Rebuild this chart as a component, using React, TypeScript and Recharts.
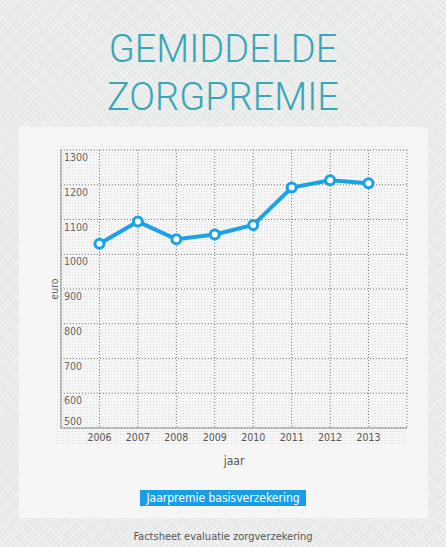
import { LineChart, Line, XAxis, YAxis, CartesianGrid, Legend } from "recharts";

// gemiddelde jaarpremie basisverzekering (euro)
const years = [2006, 2007, 2008, 2009, 2010, 2011, 2012, 2013];
const premiums = [1030, 1094, 1043, 1057, 1084, 1192, 1213, 1204];
const yTicks = [500, 600, 700, 800, 900, 1000, 1100, 1200, 1300];
const seriesName = "Jaarpremie basisverzekering";

const data = years.map((year, i) => ({ year, premie: premiums[i] }));
// one empty slot on each side of the years
const xTicks = [years[0] - 1, ...years, years[years.length - 1] + 1];

const NARROW = '"DejaVu Sans Condensed", "Liberation Sans Narrow", sans-serif';
const BLUE = "#1aa2e6";

const dots =
  "url(\"data:image/svg+xml;utf8,<svg xmlns='http://www.w3.org/2000/svg' width='3' height='3'><rect width='1' height='1' fill='%23dcdcdc'/></svg>\")";

const YTick = ({ x, y, payload }: any) => {
  const isBottom = payload.value === yTicks[0];
  return (
    <text x={x + 3} y={isBottom ? y - 3 : y + 11} fill="#666" fontSize={10.5} fontFamily={NARROW}>
      {payload.value}
    </text>
  );
};

const XTick = ({ x, y, payload }: any) => {
  if (!years.includes(payload.value)) return null;
  return (
    <text x={x} y={y + 13} fill="#555" fontSize={10.5} fontFamily={NARROW} textAnchor="middle">
      {payload.value}
    </text>
  );
};

const LegendBox = () => (
  <div style={{ textAlign: "center" }}>
    <span
      style={{
        display: "inline-block",
        background: "#169fe8",
        color: "#fff",
        fontFamily: NARROW,
        fontSize: 12,
        lineHeight: "16px",
        padding: "0 6px",
      }}
    >
      {seriesName}
    </span>
  </div>
);

export default function App() {
  return (
    <div
      style={{
        position: "fixed",
        left: 0,
        top: 0,
        width: 446,
        height: 547,
        overflow: "hidden",
        backgroundColor: "#e7e8e8",
        backgroundImage:
          "repeating-linear-gradient(45deg, rgba(255,255,255,0.3) 0 1px, transparent 1px 4px), repeating-linear-gradient(-45deg, rgba(255,255,255,0.3) 0 1px, transparent 1px 4px)",
      }}
    >
      <div
        style={{
          position: "absolute",
          top: 25,
          left: 0,
          width: 446,
          textAlign: "center",
          fontFamily: "Roboto, sans-serif",
          fontWeight: 300,
          fontSize: 38,
          lineHeight: "48px",
          color: "#36a7b7",
        }}
      >
        GEMIDDELDE
        <br />
        ZORGPREMIE
      </div>

      <div style={{ position: "absolute", left: 19, top: 127, width: 409, height: 391, background: "#f6f6f6" }} />
      <div style={{ position: "absolute", left: 57, top: 146, width: 351, height: 300, backgroundImage: dots }} />

      <div style={{ position: "absolute", left: 0, top: 0 }}>
        <LineChart width={446} height={547} data={data} margin={{ top: 150, right: 39, bottom: 79, left: 47 }}>
          <CartesianGrid stroke="#777" strokeDasharray="1 2" />
          <XAxis
            dataKey="year"
            type="number"
            domain={[xTicks[0], xTicks[xTicks.length - 1]]}
            ticks={xTicks}
            interval={0}
            height={40}
            tickSize={0}
            tickMargin={0}
            tick={<XTick />}
            stroke="#999"
            label={{ value: "jaar", position: "insideBottom", offset: 3, fill: "#555", fontSize: 12, fontFamily: NARROW }}
          />
          <YAxis
            type="number"
            domain={[yTicks[0], yTicks[yTicks.length - 1]]}
            ticks={yTicks}
            interval={0}
            width={14}
            tickSize={0}
            tickMargin={0}
            tick={<YTick />}
            stroke="#999"
            label={{ value: "euro", angle: -90, position: "center", fill: "#666", fontSize: 10.5, fontFamily: NARROW }}
          />
          <Legend
            verticalAlign="middle"
            align="center"
            content={<LegendBox />}
            wrapperStyle={{ top: 488, left: 0, width: 446 }}
          />
          <Line
            name={seriesName}
            dataKey="premie"
            stroke={BLUE}
            strokeWidth={4}
            dot={{ r: 4.5, fill: "#fff", stroke: BLUE, strokeWidth: 3 }}
            isAnimationActive={false}
          />
        </LineChart>
      </div>

      <div
        style={{
          position: "absolute",
          top: 530,
          left: 0,
          width: 446,
          textAlign: "center",
          fontFamily: NARROW,
          fontSize: 11,
          color: "#555",
        }}
      >
        Factsheet evaluatie zorgverzekering
      </div>
    </div>
  );
}
